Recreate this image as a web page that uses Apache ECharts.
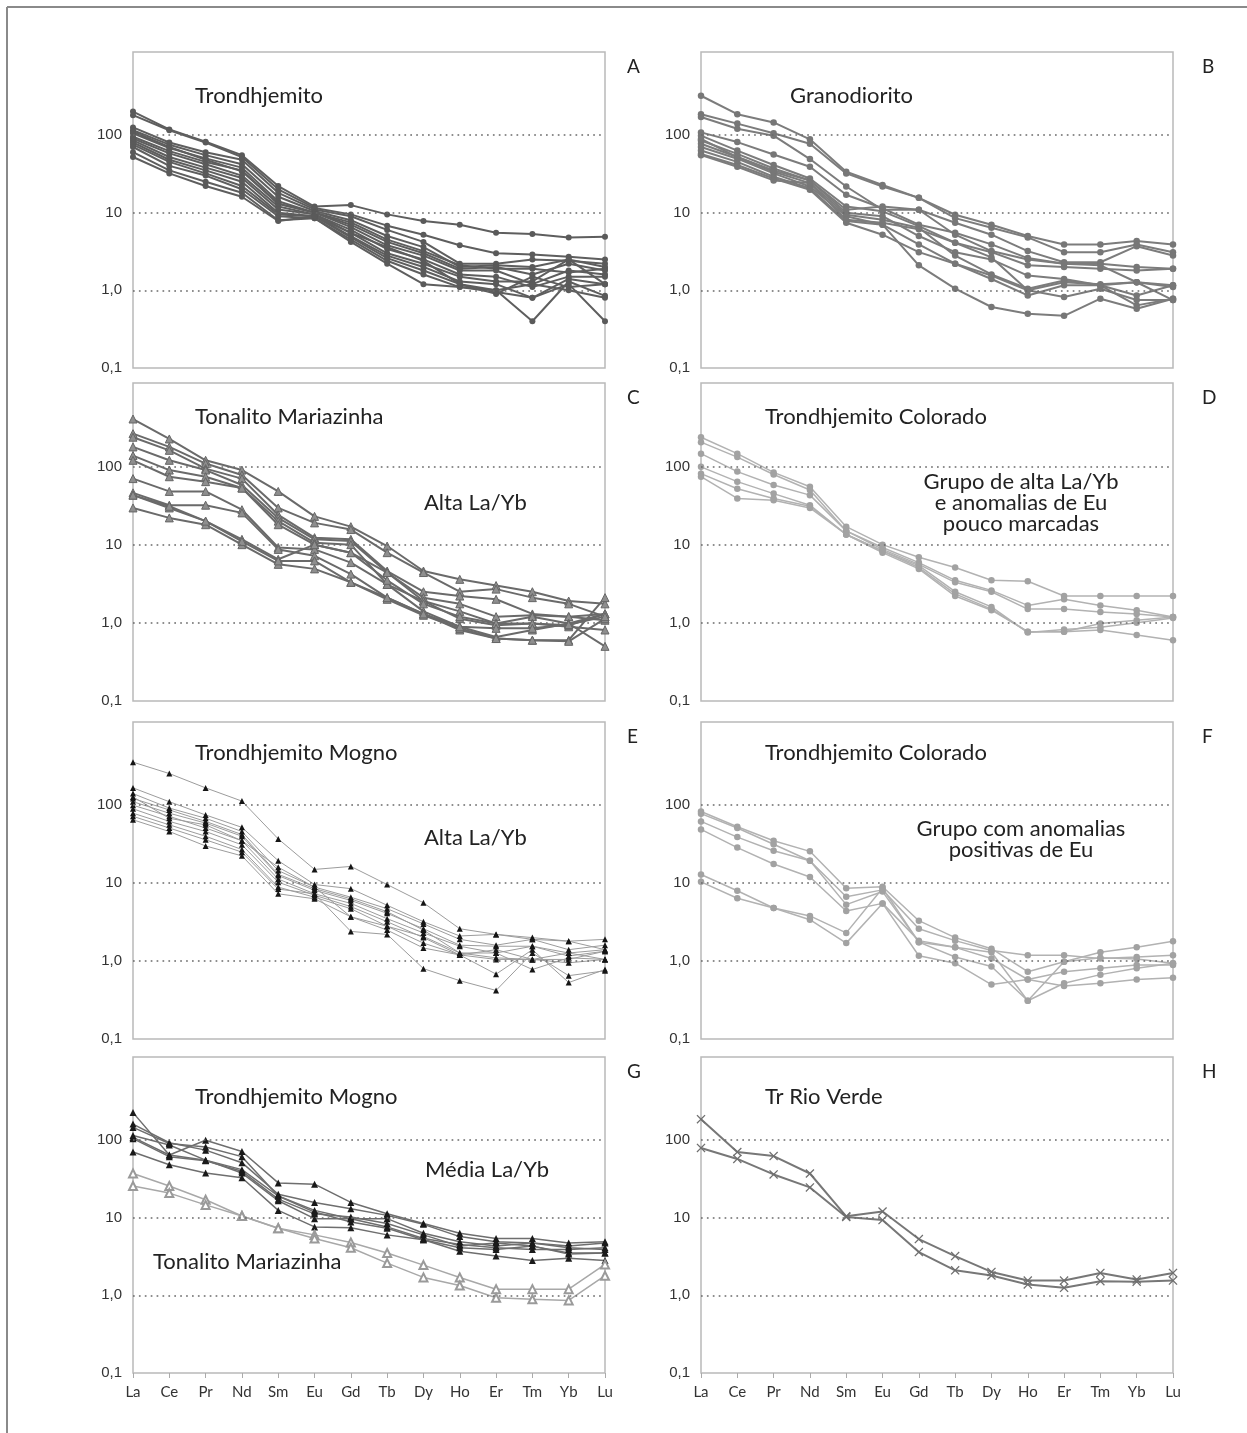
<!DOCTYPE html>
<html>
<head>
<meta charset="utf-8">
<script src="https://cdn.jsdelivr.net/npm/echarts@6/dist/echarts.min.js"></script>
<style>
  html, body { margin: 0; padding: 0; background: #fff; }
  #chart { width: 1247px; height: 1433px; }
</style>
</head>
<body>
<div id="chart"></div>
<script>
// chondrite-normalised REE, one row per sample (La ... Lu)
const ree = ["La", "Ce", "Pr", "Nd", "Sm", "Eu", "Gd", "Tb", "Dy", "Ho", "Er", "Tm", "Yb", "Lu"];
const yTickText = { "-1": "0,1", "0": "1,0", "1": "10", "2": "100" };
const gridValues = [1, 10, 100];

// A - Trondhjemito
const trondhjemito = [
  [200, 118, 82, 55, 22, 12, 12.5, 9.5, 7.8, 7, 5.5, 5.3, 4.8, 4.9],
  [180, 115, 80, 52, 20, 11.5, 9.5, 6.8, 5.2, 3.8, 3.0, 2.9, 2.7, 2.5],
  [125, 80, 60, 48, 18, 11, 9, 6, 4.2, 2.2, 2.2, 2.5, 2.4, 2.2],
  [115, 75, 55, 42, 16, 10.5, 8, 5, 3.6, 2.0, 2.1, 2.0, 2.5, 2.0],
  [110, 70, 48, 34, 13, 10, 7.5, 4.5, 3.2, 2.1, 1.9, 1.9, 1.7, 1.9],
  [105, 68, 50, 38, 14, 10, 7, 4.2, 3.0, 1.9, 2.0, 1.6, 2.2, 1.8],
  [95, 62, 45, 35, 13, 10, 6.5, 3.8, 2.8, 1.8, 1.8, 1.2, 1.8, 1.6],
  [90, 58, 42, 30, 12, 9.5, 6, 3.4, 2.5, 1.6, 1.5, 1.1, 1.5, 1.5],
  [85, 52, 38, 28, 11, 9.5, 5.5, 3.0, 2.2, 1.5, 1.3, 1.3, 2.5, 1.2],
  [80, 48, 35, 25, 10, 9, 5, 2.8, 2.0, 1.3, 1.2, 0.8, 1.4, 1.2],
  [75, 45, 32, 22, 9.5, 9, 4.8, 2.6, 1.8, 1.2, 1.0, 0.4, 1.3, 0.85],
  [70, 40, 30, 20, 9, 8.5, 4.5, 2.4, 1.6, 1.1, 0.95, 0.8, 1.2, 0.4],
  [60, 35, 25, 18, 8, 8.5, 4.2, 2.2, 1.2, 1.1, 1.0, 1.2, 1.0, 0.8],
  [52, 32, 22, 16, 7.8, 9, 5.5, 3.6, 2.4, 1.2, 0.9, 1.5, 1.1, 1.2],
];

// B - Granodiorito
const granodiorito = [
  [320, 185, 145, 88, 33.6, 22.7, 15.5, 9.4, 7.0, 5.0, 3.9, 3.9, 4.3, 3.9],
  [185, 140, 105, 77, 32, 21.7, 15.5, 8.5, 6.4, 4.8, 3.1, 3.1, 3.9, 3.1],
  [170, 120, 98, 49, 21.7, 10.9, 10.9, 7.4, 5.2, 3.2, 2.3, 2.3, 3.7, 2.8],
  [108, 81, 56, 39, 17, 11.4, 7.0, 5.5, 3.9, 2.6, 2.2, 2.2, 2.0, 1.9],
  [98, 63, 41, 27.5, 12, 10.4, 6.7, 4.1, 3.1, 2.1, 2.0, 1.9, 1.8, 1.9],
  [85, 57, 37, 26, 10, 9, 5, 3.1, 2.5, 1.55, 1.4, 1.16, 1.27, 1.1],
  [77, 52, 33.6, 24, 9.4, 8.1, 6.4, 2.8, 1.6, 1.05, 1.34, 1.16, 0.64, 0.78],
  [70, 49.5, 32, 21.7, 9, 7, 3.9, 2.2, 1.4, 0.86, 1.16, 1.16, 0.86, 1.16],
  [63, 45, 29, 20.6, 7.8, 7, 2.1, 1.05, 0.61, 0.5, 0.47, 0.78, 0.58, 0.78],
  [57, 41, 27.5, 19.7, 7.4, 5.2, 3.1, 2.2, 1.55, 1.0, 0.82, 1.05, 0.75, 0.75],
  [89, 52, 35, 26, 10.9, 12, 10.9, 5.2, 3.2, 2.5, 2.2, 2.1, 1.27, 1.16],
  [55, 39, 26, 24, 8.1, 7.4, 6.1, 4.1, 2.65, 1.0, 1.27, 1.2, 1.27, 0.75],
];

// C - Tonalito Mariazinha
const mariazinha = [
  [405, 225, 120, 90, 48, 23, 17, 9.6, 4.6, 3.6, 3.0, 2.5, 1.9, 1.75],
  [263, 178, 109, 78, 29.5, 19, 15.6, 7.9, 4.4, 2.5, 2.7, 2.1, 1.75, 1.2],
  [237, 161, 94, 70, 24, 12.3, 11.7, 4.6, 2.5, 2.2, 2.0, 1.3, 1.2, 1.3],
  [178, 120, 90, 58, 22, 11.7, 11.1, 4.4, 2.1, 1.75, 1.2, 1.25, 1.2, 1.08],
  [138, 90, 74, 53, 20, 10.6, 10, 3.1, 1.9, 1.4, 0.98, 1.2, 0.98, 1.3],
  [120, 74, 64, 53, 18, 10, 7.9, 4.4, 1.9, 1.13, 0.93, 0.98, 0.89, 0.81],
  [70, 48, 48, 28, 9.2, 8.7, 5.9, 3.1, 1.4, 0.89, 0.66, 0.81, 0.98, 0.5],
  [46, 32, 32, 25.5, 8.7, 7.2, 4.2, 2.1, 1.3, 0.81, 0.63, 0.6, 0.6, 2.1],
  [43, 29.5, 20, 11.7, 6.5, 10, 7.9, 3.5, 1.75, 1.2, 0.98, 0.98, 0.93, 1.3],
  [29.5, 22, 18, 10, 5.6, 4.9, 3.3, 2.0, 1.25, 0.85, 0.63, 0.6, 0.58, 1.13],
  [43, 31, 20, 11, 6.2, 6.2, 3.3, 2.1, 1.3, 0.89, 0.85, 0.85, 0.95, 1.2],
];

// D - Trondhjemito Colorado, alta La/Yb
const coloradoAlta = [
  [237, 146, 84, 55, 17, 10, 6.9, 5.1, 3.5, 3.4, 2.2, 2.2, 2.2, 2.2],
  [205, 132, 79, 50, 15, 9.2, 5.9, 3.5, 2.6, 1.67, 2.0, 1.67, 1.45, 1.19],
  [146, 86, 58, 43, 15, 8.7, 5.6, 3.3, 2.5, 1.5, 1.5, 1.38, 1.3, 1.19],
  [99, 64, 45, 32, 13.5, 8.3, 5.1, 2.35, 1.5, 0.77, 0.77, 0.98, 1.08, 1.19],
  [81, 52, 39, 31, 13.5, 7.9, 4.9, 2.2, 1.45, 0.77, 0.77, 0.81, 0.7, 0.6],
  [74, 39, 37, 29.5, 13.5, 8.3, 5.4, 2.5, 1.6, 0.75, 0.82, 0.88, 1.0, 1.15],
];

// E - Trondhjemito Mogno, alta La/Yb
const mognoAlta = [
  [357, 255, 167, 113, 37, 15, 16.4, 9.6, 5.6, 2.6, 2.2, 2.0, 1.8, 1.9],
  [167, 111, 75, 52, 19.4, 9.6, 8.5, 5.2, 3.2, 2.1, 2.2, 1.9, 1.8, 1.4],
  [141, 92, 68, 46, 14.5, 8.9, 6.6, 4.7, 3.0, 1.9, 1.6, 1.9, 1.4, 1.6],
  [128, 68, 56, 35, 16, 8.9, 3.7, 2.8, 2.07, 1.27, 1.1, 1.05, 1.27, 1.05],
  [122, 87, 62, 42, 13, 8.5, 6.3, 4.3, 2.5, 1.27, 1.27, 0.78, 1.1, 1.05],
  [111, 79, 59, 40, 12.5, 8.1, 6.0, 4.1, 2.6, 1.6, 1.55, 1.55, 1.27, 1.4],
  [100, 72, 51, 35, 11.3, 7.3, 5.5, 3.5, 2.3, 1.55, 1.27, 1.55, 1.16, 1.34],
  [90, 62, 46, 31, 10.3, 7.0, 5.0, 3.2, 2.0, 1.2, 1.4, 1.05, 1.05, 1.34],
  [79, 56, 40, 27, 8.9, 6.6, 4.7, 2.8, 1.7, 1.2, 1.05, 1.05, 0.95, 1.05],
  [72, 51, 36, 25, 8.4, 7.3, 2.4, 2.2, 0.8, 0.56, 0.42, 1.27, 0.65, 0.75],
  [65, 46, 30, 22.4, 7.3, 6.3, 3.7, 2.5, 1.47, 1.2, 0.68, 1.4, 0.53, 0.78],
];

// F - Trondhjemito Colorado, anomalias positivas de Eu
const coloradoEu = [
  [83, 53, 35, 25.6, 8.6, 9.0, 3.3, 2.0, 1.44, 0.73, 0.98, 1.3, 1.5, 1.8],
  [78, 51, 31.6, 19.4, 6.7, 8.2, 2.6, 1.83, 1.37, 1.19, 1.19, 1.08, 1.13, 1.19],
  [62, 39, 26, 19.4, 5.3, 7.8, 1.75, 1.5, 1.08, 0.58, 0.73, 0.81, 0.89, 0.89],
  [49, 28.6, 17.6, 12, 4.4, 5.5, 1.83, 1.5, 1.3, 0.31, 0.52, 0.67, 0.81, 0.94],
  [12.9, 8.0, 4.8, 3.8, 2.3, 8.6, 1.75, 1.13, 0.85, 0.31, 0.98, 1.1, 1.06, 0.94],
  [10.4, 6.4, 4.8, 3.4, 1.7, 5.5, 1.17, 0.94, 0.5, 0.58, 0.48, 0.52, 0.58, 0.61],
];

// G - Mogno media La/Yb + Mariazinha
const mognoMedia = [
  [225, 64, 99, 71, 28, 27, 15.7, 11.2, 8.4, 6.3, 5.4, 5.4, 4.7, 4.9],
  [160, 92, 74, 51, 20, 15.7, 13, 10.7, 8.2, 5.7, 4.9, 4.7, 4.3, 4.7],
  [145, 90, 81, 61, 19, 11.8, 8.8, 7.3, 5.2, 4.1, 3.9, 4.3, 3.4, 3.5],
  [114, 86, 55, 41.5, 19, 12.4, 9.7, 9.7, 6.3, 4.9, 4.3, 4.7, 4.1, 3.9],
  [108, 64, 55, 37.5, 16.5, 9.7, 9.7, 7.6, 5.4, 4.5, 4.1, 3.9, 3.9, 4.1],
  [104, 61, 54, 39.5, 17.3, 11.2, 10.2, 8.4, 6.0, 4.3, 4.7, 4.3, 3.5, 3.5],
  [70, 48, 37.5, 32.6, 12.4, 7.6, 7.4, 6.0, 5.2, 3.7, 3.2, 2.8, 3.0, 2.8],
];
const mariazinhaMedia = [
  [37, 25.6, 17, 10.5, 7.3, 6.0, 4.8, 3.5, 2.45, 1.7, 1.2, 1.2, 1.2, 2.5],
  [25.6, 20.7, 14.6, 10.5, 7.3, 5.4, 4.1, 2.6, 1.7, 1.34, 0.93, 0.89, 0.86, 1.79],
];

// H - Tr Rio Verde
const rioVerde = [
  [185, 70, 62, 37, 10.4, 12, 5.3, 3.2, 2.0, 1.55, 1.55, 1.94, 1.6, 1.94],
  [79, 57, 36, 24.5, 10.2, 9.3, 3.6, 2.1, 1.8, 1.38, 1.25, 1.52, 1.5, 1.55],
];

const chart = echarts.init(document.getElementById("chart"));

// panel boxes [left, top, height], all 472 wide
const frames = [
  [133, 52, 316], [701, 52, 316],
  [133, 383, 318], [701, 383, 318],
  [133, 722, 317], [701, 722, 317],
  [133, 1057, 316], [701, 1057, 316],
];

const crossPath =
  "path://M0,1L1,0L5,4L9,0L10,1L6,5L10,9L9,10L5,6L1,10L0,9L4,5Z";

function makeSeries(panel, rows, style) {
  return rows.map((vals, i) => ({
    type: "line",
    xAxisIndex: panel,
    yAxisIndex: panel,
    data: vals,
    silent: true,
    symbol: style.symbol,
    symbolSize: style.size,
    lineStyle: { color: style.line, width: style.width },
    itemStyle: {
      color: style.fill,
      borderColor: style.border || style.fill,
      borderWidth: style.borderWidth || 0,
    },
    markLine:
      i === 0 && style.grid !== false
        ? {
            silent: true,
            symbol: ["none", "none"],
            label: { show: false },
            lineStyle: { color: "#6a6a6a", width: 1.7, type: [1.7, 4.2] },
            data: gridValues.map((v) => ({ yAxis: v })),
          }
        : undefined,
  }));
}

const dark = { symbol: "circle", size: 6, line: "#5e5e5e", fill: "#5a5a5a", width: 2 };
const mid = { symbol: "circle", size: 6.5, line: "#7c7c7c", fill: "#777", width: 2 };
const tri = { symbol: "triangle", size: 8, line: "#6a6a6a", fill: "#8e8e8e", border: "#666", borderWidth: 1, width: 2 };
const light = { symbol: "circle", size: 6.5, line: "#b2b2b2", fill: "#a2a2a2", width: 1.5 };
const blackTri = { symbol: "triangle", size: 6, line: "#9c9c9c", fill: "#151515", width: 1 };
const blackTriG = { symbol: "triangle", size: 7, line: "#6e6e6e", fill: "#1a1a1a", width: 1.5 };
const openTri = { symbol: "emptyTriangle", size: 8, line: "#a8a8a8", fill: "#9a9a9a", width: 1.5, grid: false };
const cross = { symbol: crossPath, size: 9, line: "#777", fill: "#6f6f6f", width: 2 };

const series = [].concat(
  makeSeries(0, trondhjemito, dark),
  makeSeries(1, granodiorito, mid),
  makeSeries(2, mariazinha, tri),
  makeSeries(3, coloradoAlta, light),
  makeSeries(4, mognoAlta, blackTri),
  makeSeries(5, coloradoEu, light),
  makeSeries(6, mognoMedia, blackTriG),
  makeSeries(6, mariazinhaMedia, openTri),
  makeSeries(7, rioVerde, cross)
);

const grids = frames.map((f) => ({
  left: f[0],
  top: f[1],
  width: 472,
  height: f[2],
  show: true,
  borderColor: "#b9b9b9",
  borderWidth: 1.5,
  backgroundColor: "#fff",
}));

const xAxes = frames.map((f, i) => ({
  type: "category",
  gridIndex: i,
  data: ree,
  boundaryGap: false,
  axisLine: { show: false },
  axisTick: { show: i >= 6, length: 5, lineStyle: { color: "#aaa" } },
  axisLabel: {
    show: i >= 6,
    color: "#333",
    fontSize: 15,
    fontFamily: "Lato",
    margin: 12,
  },
  splitLine: { show: false },
}));

const yAxes = frames.map((f, i) => ({
  type: "log",
  gridIndex: i,
  min: 0.1,
  max: 1170,
  axisLine: { show: false },
  axisTick: { show: false },
  splitLine: { show: false },
  axisLabel: {
    color: "#333",
    fontSize: 15,
    fontFamily: "Liberation Sans",
    margin: 11,
    formatter: (v) => {
      const e = Math.log10(v);
      if (Math.abs(e - Math.round(e)) > 0.01) return "";
      return yTickText[Math.round(e)] || "";
    },
  },
}));

// panel captions
function text(str, x, y, size, align) {
  return {
    type: "text",
    x: x,
    y: y,
    silent: true,
    style: {
      text: str,
      fill: "#222",
      font: size + "px Lato",
      textAlign: align || "left",
      textVerticalAlign: "middle",
      lineHeight: 21,
    },
  };
}

const graphic = [
  { type: "line", silent: true, shape: { x1: 7, y1: 7, x2: 1247, y2: 7 }, style: { stroke: "#8a8a8a", lineWidth: 2 } },
  { type: "line", silent: true, shape: { x1: 7, y1: 7, x2: 7, y2: 1433 }, style: { stroke: "#8a8a8a", lineWidth: 2 } },
  text("Trondhjemito", 195, 96, 22),
  text("Granodiorito", 790, 96, 22),
  text("Tonalito Mariazinha", 195, 417, 22),
  text("Alta La/Yb", 424, 503, 22),
  text("Trondhjemito Colorado", 765, 417, 22),
  text("Grupo de alta La/Yb\ne anomalias de Eu\npouco marcadas", 1021, 503, 22, "center"),
  text("Trondhjemito Mogno", 195, 753, 22),
  text("Alta La/Yb", 424, 838, 22),
  text("Trondhjemito Colorado", 765, 753, 22),
  text("Grupo com anomalias\npositivas de Eu", 1021, 839, 22, "center"),
  text("Trondhjemito Mogno", 195, 1097, 22),
  text("Média La/Yb", 425, 1170, 22),
  text("Tonalito Mariazinha", 153, 1262, 22),
  text("Tr Rio Verde", 765, 1097, 22),
];
const letters = ["A", "B", "C", "D", "E", "F", "G", "H"];
letters.forEach((l, i) => {
  const f = frames[i];
  graphic.push(text(l, f[0] === 133 ? 627 : 1202, f[1] + 15, 19));
});

chart.setOption({
  animation: false,
  backgroundColor: "#fff",
  grid: grids,
  xAxis: xAxes,
  yAxis: yAxes,
  series: series,
  graphic: graphic,
});
</script>
</body>
</html>
